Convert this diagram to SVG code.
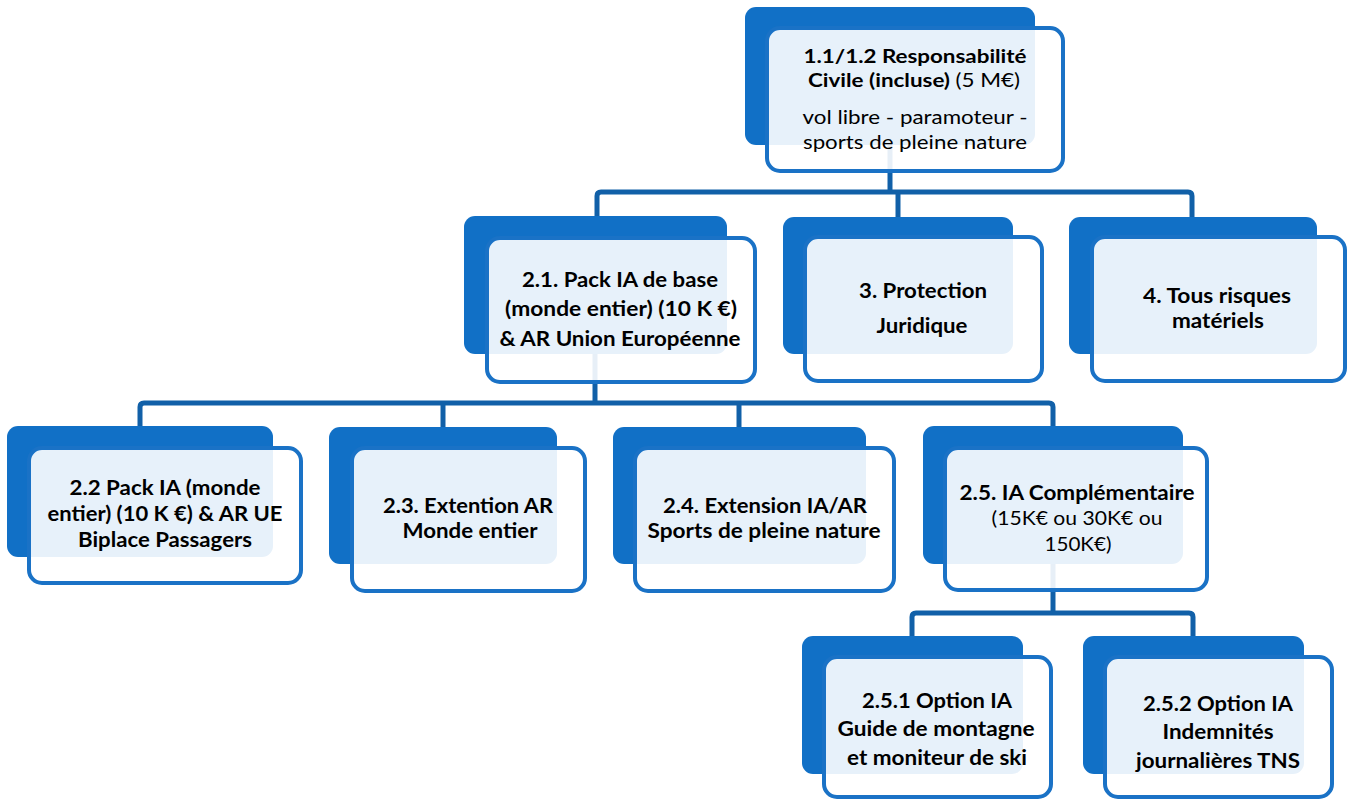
<svg xmlns="http://www.w3.org/2000/svg" width="1349" height="801" viewBox="0 0 1349 801">
<style>
.bk{fill:#1170C6}
.fr{fill:#FFFFFF;fill-opacity:0.9;stroke:#1A72C6;stroke-width:4}
.cn{fill:none;stroke:#1160A8;stroke-width:5;stroke-linejoin:round}
text{font-family:Lato,"Liberation Sans",sans-serif;fill:#000;text-anchor:middle;font-weight:700}
.rg{font-weight:400}
</style>
<rect width="1349" height="801" fill="#FFFFFF"/>
<g id="connectors">
<path class="cn" d="M890,100 V192"/>
<path class="cn" d="M597,217 V196 Q597,192 601,192 H1188 Q1192,192 1192,196 V217"/>
<path class="cn" d="M898,192 V217"/>
<path class="cn" d="M595,300 V403"/>
<path class="cn" d="M140,427 V407 Q140,403 144,403 H1049 Q1053,403 1053,407 V427"/>
<path class="cn" d="M443,403 V427"/>
<path class="cn" d="M739,403 V427"/>
<path class="cn" d="M1053,500 V613"/>
<path class="cn" d="M912,636 V617 Q912,613 916,613 H1189 Q1193,613 1193,617 V636"/>
</g>
<g id="node-1">
<rect class="bk" x="745" y="7" width="290" height="138" rx="11"/>
<rect class="fr" x="767" y="28" width="296" height="143" rx="13"/>
<text font-size="19.5" x="915" y="63" textLength="223" lengthAdjust="spacingAndGlyphs">1.1/1.2 Responsabilité</text>
<text font-size="19.5" x="914" y="87" textLength="212" lengthAdjust="spacingAndGlyphs">Civile (incluse) <tspan class="rg">(5 M€)</tspan></text>
<text class="rg" font-size="19.5" x="915" y="124" textLength="225" lengthAdjust="spacingAndGlyphs">vol libre - paramoteur -</text>
<text class="rg" font-size="19.5" x="915" y="149" textLength="224" lengthAdjust="spacingAndGlyphs">sports de pleine nature</text>
</g>
<g id="node-2-1">
<rect class="bk" x="464" y="216" width="263" height="138" rx="11"/>
<rect class="fr" x="487" y="238" width="268" height="144" rx="13"/>
<text font-size="21.5" x="620" y="287" textLength="196" lengthAdjust="spacingAndGlyphs">2.1. Pack IA de base</text>
<text font-size="21.5" x="621" y="316" textLength="232" lengthAdjust="spacingAndGlyphs">(monde entier) (10 K €)</text>
<text font-size="21.5" x="620" y="346" textLength="241" lengthAdjust="spacingAndGlyphs">&amp; AR Union Européenne</text>
</g>
<g id="node-3">
<rect class="bk" x="783" y="217" width="230" height="137" rx="11"/>
<rect class="fr" x="805" y="237" width="237" height="144" rx="13"/>
<text font-size="21" x="923" y="298" textLength="128" lengthAdjust="spacingAndGlyphs">3. Protection</text>
<text font-size="21" x="922" y="333" textLength="91" lengthAdjust="spacingAndGlyphs">Juridique</text>
</g>
<g id="node-4">
<rect class="bk" x="1069" y="217" width="248" height="137" rx="11"/>
<rect class="fr" x="1092" y="237" width="253" height="144" rx="13"/>
<text font-size="20.5" x="1217" y="303" textLength="148" lengthAdjust="spacingAndGlyphs">4. Tous risques</text>
<text font-size="20.5" x="1218" y="328" textLength="92" lengthAdjust="spacingAndGlyphs">matériels</text>
</g>
<g id="node-2-2">
<rect class="bk" x="7" y="426" width="266" height="131" rx="11"/>
<rect class="fr" x="29" y="448" width="272" height="135" rx="13"/>
<text font-size="20" x="165" y="495" textLength="191" lengthAdjust="spacingAndGlyphs">2.2 Pack IA (monde</text>
<text font-size="20" x="165" y="521" textLength="235" lengthAdjust="spacingAndGlyphs">entier) (10 K €) &amp; AR UE</text>
<text font-size="20" x="165" y="547" textLength="174" lengthAdjust="spacingAndGlyphs">Biplace Passagers</text>
</g>
<g id="node-2-3">
<rect class="bk" x="329" y="427" width="228" height="137" rx="11"/>
<rect class="fr" x="352" y="448" width="233" height="143" rx="13"/>
<text font-size="20" x="468" y="513" textLength="170" lengthAdjust="spacingAndGlyphs">2.3. Extention AR</text>
<text font-size="20" x="470" y="538" textLength="135" lengthAdjust="spacingAndGlyphs">Monde entier</text>
</g>
<g id="node-2-4">
<rect class="bk" x="613" y="427" width="253" height="137" rx="11"/>
<rect class="fr" x="635" y="448" width="259" height="143" rx="13"/>
<text font-size="20" x="765" y="513" textLength="204" lengthAdjust="spacingAndGlyphs">2.4. Extension IA/AR</text>
<text font-size="20" x="764" y="538" textLength="233" lengthAdjust="spacingAndGlyphs">Sports de pleine nature</text>
</g>
<g id="node-2-5">
<rect class="bk" x="923" y="426" width="260" height="138" rx="11"/>
<rect class="fr" x="945" y="448" width="262" height="142" rx="13"/>
<text font-size="20" x="1077" y="500" textLength="235" lengthAdjust="spacingAndGlyphs">2.5. IA Complémentaire</text>
<text class="rg" font-size="20" x="1077" y="525" textLength="171" lengthAdjust="spacingAndGlyphs">(15K€ ou 30K€ ou</text>
<text class="rg" font-size="20" x="1078" y="551" textLength="67" lengthAdjust="spacingAndGlyphs">150K€)</text>
</g>
<g id="node-2-5-1">
<rect class="bk" x="802" y="636" width="221" height="138" rx="11"/>
<rect class="fr" x="824" y="657" width="227" height="140" rx="13"/>
<text font-size="21.5" x="937" y="708" textLength="150" lengthAdjust="spacingAndGlyphs">2.5.1 Option IA</text>
<text font-size="21.5" x="936" y="736" textLength="197" lengthAdjust="spacingAndGlyphs">Guide de montagne</text>
<text font-size="21.5" x="937" y="765" textLength="180" lengthAdjust="spacingAndGlyphs">et moniteur de ski</text>
</g>
<g id="node-2-5-2">
<rect class="bk" x="1083" y="636" width="221" height="138" rx="11"/>
<rect class="fr" x="1105" y="657" width="227" height="140" rx="13"/>
<text font-size="21.5" x="1218" y="711" textLength="150" lengthAdjust="spacingAndGlyphs">2.5.2 Option IA</text>
<text font-size="21.5" x="1218" y="739" textLength="111" lengthAdjust="spacingAndGlyphs">Indemnités</text>
<text font-size="21.5" x="1218" y="768" textLength="164" lengthAdjust="spacingAndGlyphs">journalières TNS</text>
</g>
</svg>
